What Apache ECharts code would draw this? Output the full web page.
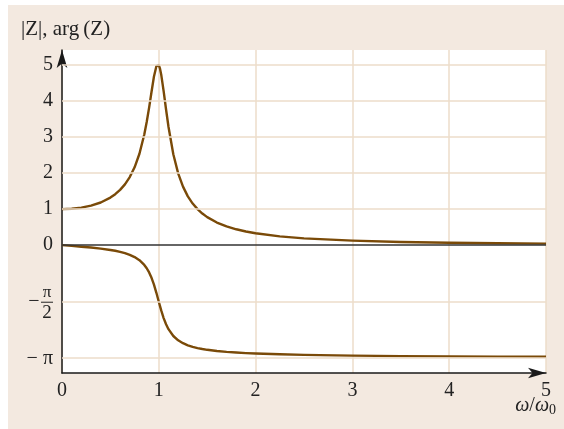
<!DOCTYPE html>
<html>
<head>
<meta charset="utf-8">
<script src="https://cdn.jsdelivr.net/npm/echarts@6/dist/echarts.min.js"></script>
<style>
  html, body { margin: 0; padding: 0; background: #fff; }
  #chart { width: 564px; height: 429px; }
</style>
</head>
<body>
<div id="chart"></div>
<script>
// omega / omega0
const xs = [0, 0.1, 0.2, 0.3, 0.4, 0.5, 0.55, 0.6, 0.65, 0.7, 0.75, 0.8, 0.85, 0.875, 0.9, 0.925, 0.95, 0.975, 0.9875, 1,
  1.0125, 1.025, 1.05, 1.075, 1.1, 1.15, 1.2, 1.25, 1.3, 1.35, 1.4, 1.45, 1.5, 1.6, 1.7, 1.8, 1.9, 2, 2.25, 2.5, 3, 3.5, 4, 4.5, 5]
// |Z|
const absZ = [1, 1.01, 1.041, 1.097, 1.185, 1.322, 1.416, 1.536, 1.689, 1.891, 2.162, 2.538, 3.073, 3.419, 3.821, 4.261, 4.683, 4.971, 5.024, 5,
  4.901, 4.736, 4.279, 3.768, 3.288, 2.524, 1.995, 1.625, 1.356, 1.155, 1.0, 0.877, 0.778, 0.628, 0.521, 0.441, 0.379, 0.33, 0.245, 0.19, 0.125, 0.089, 0.067, 0.052, 0.042]
// arg(Z)
const argZ = [0, -0.02, -0.042, -0.066, -0.095, -0.133, -0.156, -0.185, -0.221, -0.268, -0.33, -0.418, -0.55, -0.641, -0.758, -0.908, -1.097, -1.323, -1.446, -1.571,
  -1.694, -1.812, -2.025, -2.197, -2.333, -2.522, -2.642, -2.723, -2.781, -2.824, -2.858, -2.884, -2.906, -2.939, -2.964, -2.982, -2.997, -3.009, -3.031, -3.047, -3.067, -3.08, -3.088, -3.095, -3.1]
// horizontal grid lines
const yGrid = [1, 2, 3, 4, 5, -Math.PI / 2, -Math.PI]
const yTicks = [5, 4, 3, 2, 1, 0, -Math.PI / 2, -Math.PI]

const brown = '#7a4a08'
const gridColor = '#ecdcca'
const font = '"Liberation Serif", "DejaVu Serif", serif'

const chart = echarts.init(document.getElementById('chart'))

const pairs = arr => xs.map((x, i) => [x, arr[i]])

chart.setOption({
  animation: false,
  backgroundColor: '#fff',
  grid: {
    left: 62, right: 18, top: 50, bottom: 56,
    show: true, backgroundColor: '#fff', borderWidth: 0
  },
  xAxis: {
    type: 'value', min: 0, max: 5, interval: 1,
    axisLine: { onZero: false, symbol: ['none', 'arrow'], symbolSize: [8, 18], lineStyle: { color: '#1a1a1a', width: 1.5 } },
    axisTick: { show: false },
    splitLine: { show: true, lineStyle: { color: gridColor, width: 1.5 } },
    axisLabel: { margin: 8, fontFamily: font, fontSize: 20, color: '#222' }
  },
  yAxis: {
    type: 'value', min: -3.55, max: 5.42,
    axisLine: { onZero: false, symbol: ['none', 'arrow'], symbolSize: [8, 18], lineStyle: { color: '#1a1a1a', width: 1.5 } },
    axisTick: { show: false },
    splitLine: { show: false },
    axisLabel: {
      margin: 9, fontFamily: font, fontSize: 20, color: '#222',
      customValues: yTicks,
      formatter: v => {
        if (Math.abs(v + Math.PI) < 1e-6) return '− π'
        if (Math.abs(v + Math.PI / 2) < 1e-6) return ''
        return String(Math.round(v))
      }
    }
  },
  series: [
    {
      type: 'line', data: pairs(absZ), showSymbol: false, smooth: false,
      lineStyle: { color: brown, width: 2.4, join: 'round' }, z: 3,
      markLine: {
        silent: true, symbol: 'none', label: { show: false },
        lineStyle: { color: gridColor, width: 1.5, type: 'solid' },
        data: yGrid.map(v => ({ yAxis: v }))
      }
    },
    {
      type: 'line', data: pairs(argZ), showSymbol: false, smooth: false,
      lineStyle: { color: brown, width: 2.4, join: 'round' }, z: 3,
      markLine: {
        silent: true, symbol: 'none', label: { show: false },
        lineStyle: { color: '#333', width: 1.5, type: 'solid' },
        data: [{ yAxis: 0 }]
      }
    }
  ]
})

const x0 = chart.convertToPixel({ xAxisIndex: 0 }, 0)
const yHalf = chart.convertToPixel({ yAxisIndex: 0 }, -Math.PI / 2)

chart.setOption({
  graphic: [
    { type: 'rect', z: -10, shape: { x: 8, y: 5, width: 556, height: 424 }, style: { fill: '#f3e9e0' } },
    {
      type: 'text', left: 21, top: 19,
      style: { text: '|Z|, arg\u2009(Z)', font: '21px ' + font, fill: '#222' }
    },
    {
      type: 'text', right: 8, top: 396,
      style: {
        text: '{i|ω}/{i|ω}{s|0}',
        font: '20px ' + font, fill: '#222',
        rich: {
          i: { fontStyle: 'italic', fontFamily: font, fontSize: 20, fill: '#222' },
          s: { fontFamily: font, fontSize: 14, fill: '#222', verticalAlign: 'bottom', padding: [9, 0, 0, 0] }
        }
      }
    },
    // -pi/2 fraction label
    { type: 'text', x: x0 - 28, y: yHalf, style: { text: '−', font: '20px ' + font, fill: '#222', align: 'center', verticalAlign: 'middle' } },
    { type: 'text', x: x0 - 15, y: yHalf - 9, style: { text: 'π', font: '17px ' + font, fill: '#222', align: 'center', verticalAlign: 'middle' } },
    { type: 'line', shape: { x1: x0 - 21, y1: yHalf + 0.5, x2: x0 - 9, y2: yHalf + 0.5 }, style: { stroke: '#222', lineWidth: 1 } },
    { type: 'text', x: x0 - 15, y: yHalf + 11, style: { text: '2', font: '19px ' + font, fill: '#222', align: 'center', verticalAlign: 'middle' } }
  ]
})
</script>
</body>
</html>
